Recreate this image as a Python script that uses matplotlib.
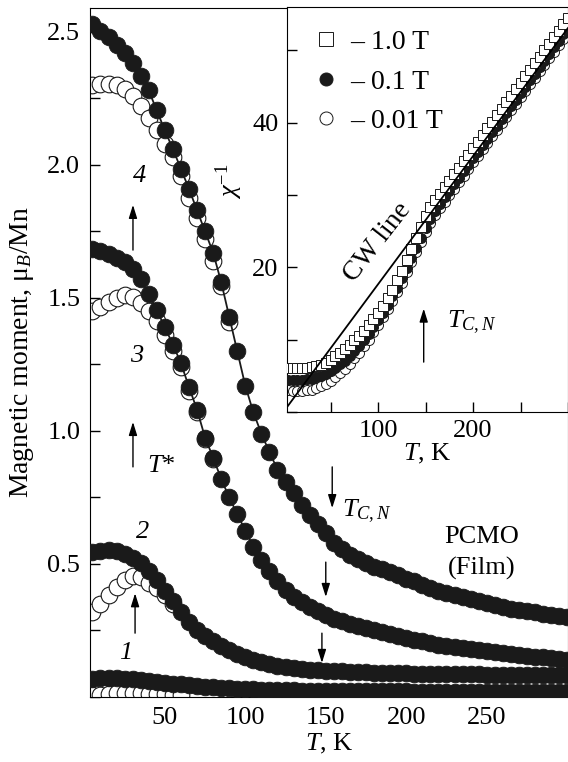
import numpy as np
import matplotlib
matplotlib.use("Agg")
import matplotlib.pyplot as plt
from matplotlib.ticker import MultipleLocator

plt.rcParams['font.family'] = ['Liberation Serif', 'DejaVu Serif']
plt.rcParams['mathtext.fontset'] = 'custom'
plt.rcParams['mathtext.rm'] = 'Liberation Serif'
plt.rcParams['mathtext.it'] = 'Liberation Serif:italic'
plt.rcParams['mathtext.bf'] = 'Liberation Serif:bold'

# temperature grid (K) shared by all curves
temps = list(range(5, 305, 5))

# main panel: magnetic moment (mu_B/Mn), filled = one field, open = the other
curve4_filled = [2.53, 2.505, 2.48, 2.45, 2.42, 2.385, 2.335, 2.28, 2.205, 2.13,
                 2.06, 1.985, 1.91, 1.83, 1.75, 1.67, 1.56, 1.43, 1.30, 1.17,
                 1.07, 0.99, 0.92, 0.855, 0.81, 0.765, 0.72, 0.685, 0.65, 0.615,
                 0.58, 0.555, 0.535, 0.52, 0.505, 0.49, 0.48, 0.47, 0.46, 0.445,
                 0.435, 0.42, 0.41, 0.40, 0.39, 0.383, 0.375, 0.367, 0.36, 0.352,
                 0.345, 0.338, 0.332, 0.327, 0.322, 0.318, 0.313, 0.309, 0.305, 0.30]
curve3_filled = [1.685, 1.675, 1.665, 1.652, 1.635, 1.61, 1.57, 1.515, 1.455, 1.39,
                 1.325, 1.255, 1.165, 1.08, 0.975, 0.90, 0.82, 0.75, 0.688, 0.625,
                 0.565, 0.515, 0.475, 0.437, 0.402, 0.377, 0.356, 0.338, 0.322, 0.308,
                 0.295, 0.285, 0.275, 0.266, 0.258, 0.25, 0.243, 0.236, 0.229, 0.222,
                 0.215, 0.209, 0.203, 0.197, 0.192, 0.187, 0.183, 0.179, 0.175, 0.172,
                 0.168, 0.165, 0.162, 0.158, 0.155, 0.152, 0.149, 0.146, 0.143, 0.14]
curve2_filled = [0.545, 0.55, 0.553, 0.548, 0.537, 0.522, 0.505, 0.472, 0.44, 0.40,
                 0.36, 0.32, 0.283, 0.252, 0.23, 0.21, 0.192, 0.175, 0.162, 0.15,
                 0.14, 0.131, 0.124, 0.118, 0.113, 0.109, 0.106, 0.103, 0.101, 0.099,
                 0.097, 0.096, 0.095, 0.094, 0.093, 0.092, 0.091, 0.09, 0.09, 0.089,
                 0.088, 0.088, 0.087, 0.087, 0.086, 0.086, 0.085, 0.085, 0.085, 0.084,
                 0.084, 0.083, 0.083, 0.083, 0.082, 0.082, 0.082, 0.081, 0.081, 0.081]
curve1_filled = [0.068, 0.07, 0.071, 0.07, 0.069, 0.067, 0.064, 0.061, 0.058, 0.054,
                 0.05, 0.047, 0.044, 0.041, 0.038, 0.036, 0.034, 0.032, 0.031, 0.03,
                 0.029, 0.028, 0.027, 0.026, 0.025, 0.025, 0.024, 0.024, 0.023, 0.023,
                 0.023, 0.022, 0.022, 0.022, 0.022, 0.021, 0.021, 0.021, 0.021, 0.021,
                 0.02, 0.02, 0.02, 0.02, 0.02, 0.02, 0.02, 0.02, 0.02, 0.02,
                 0.02, 0.02, 0.02, 0.02, 0.02, 0.02, 0.02, 0.02, 0.02, 0.02]

curve4_open = [2.30, 2.305, 2.305, 2.30, 2.285, 2.26, 2.22, 2.175, 2.13, 2.08,
               2.03, 1.96, 1.875, 1.80, 1.72, 1.64, 1.545, 1.41]
curve3_open = [1.45, 1.465, 1.485, 1.50, 1.51, 1.505, 1.48, 1.45, 1.415, 1.36,
               1.30, 1.24, 1.15, 1.07, 0.97, 0.895]
curve2_open = [0.32, 0.35, 0.385, 0.415, 0.44, 0.453, 0.45, 0.43, 0.41, 0.385, 0.35]
curve1_open = [0.006, 0.009, 0.012, 0.014, 0.015, 0.015, 0.014, 0.013, 0.011, 0.01,
               0.009, 0.008]

# inset: inverse susceptibility
chi_inv_1T = [6.1, 6.1, 6.1, 6.1, 6.15, 6.2, 6.3, 6.5, 6.8, 7.2,
              7.7, 8.2, 8.7, 9.3, 9.9, 10.5, 11.2, 12.0, 12.8, 13.7,
              14.6, 15.7, 16.9, 18.2, 19.5, 21.0, 22.6, 24.0, 25.6, 27.1,
              28.3, 29.3, 30.2, 31.1, 32.0, 32.9, 33.8, 34.7, 35.6, 36.5,
              37.4, 38.3, 39.2, 40.1, 41.0, 41.9, 42.8, 43.7, 44.6, 45.5,
              46.4, 47.3, 48.2, 49.1, 50.0, 50.9, 51.8, 52.7, 53.6, 54.5]
chi_inv_01T = [4.4, 4.4, 4.4, 4.45, 4.5, 4.6, 4.8, 5.0, 5.3, 5.7,
               6.1, 6.6, 7.1, 7.7, 8.4, 9.1, 9.9, 10.8, 11.7, 12.7,
               13.7, 14.8, 16.0, 17.2, 18.5, 19.9, 21.3, 22.7, 24.1, 25.5,
               26.7, 27.8, 28.8, 29.7, 30.6, 31.5, 32.4, 33.3, 34.2, 35.1,
               36.0, 36.9, 37.8, 38.7, 39.6, 40.5, 41.4, 42.3, 43.2, 44.1,
               45.0, 45.9, 46.8, 47.7, 48.6, 49.5, 50.4, 51.3, 52.2, 53.1]
chi_inv_001T = [3.0, 2.9, 2.9, 2.9, 3.0, 3.1, 3.3, 3.6, 3.9, 4.3,
                4.8, 5.4, 6.0, 6.7, 7.4, 8.2, 9.1, 10.0, 11.0, 12.0,
                13.1, 14.2, 15.4, 16.6, 17.9, 19.3, 20.7, 22.1, 23.5, 24.9,
                26.1, 27.2, 28.2, 29.1, 30.0, 30.9, 31.8, 32.7, 33.6, 34.5,
                35.4, 36.3, 37.2, 38.1, 39.0, 39.9, 40.8, 41.7, 42.6, 43.5,
                44.4, 45.3, 46.2, 47.1, 48.0, 48.9, 49.8, 50.7, 51.6, 52.5]
cw_T = [3, 300]
cw_chi = [0.5, 53.1]
field_labels = ["\u2013 1.0 T", "\u2013 0.1 T", "\u2013 0.01 T"]

FS = 19

fig = plt.figure(figsize=(5.68, 7.62), dpi=100)
W, H = 568.0, 762.0
ax = fig.add_axes([90 / W, 65 / H, 478 / W, 689 / H])

ms_main = 12
for vals in [curve4_open, curve3_open, curve2_open, curve1_open]:
    ax.plot(temps[:len(vals)], vals, 'o', ms=ms_main, mfc='white', mec='#1a1a1a',
            mew=0.8, zorder=2)
for vals in [curve4_filled, curve3_filled, curve2_filled, curve1_filled]:
    ax.plot(temps, vals, '-o', color='#1a1a1a', lw=1.3, ms=ms_main, mfc='#1a1a1a',
            mec='#1a1a1a', mew=0.6, zorder=3)

ax.set_xlim(3.5, 300.5)
ax.set_ylim(0, 2.59)
ax.set_xticks([50, 100, 150, 200, 250])
ax.yaxis.set_minor_locator(MultipleLocator(0.25))
ax.set_yticks([0.5, 1.0, 1.5, 2.0, 2.5])
ax.tick_params(direction='in', length=7, width=1, labelsize=FS, pad=7)
ax.tick_params(which='minor', direction='in', length=7, width=1)
ax.set_xlabel("$T$, K", fontsize=FS, labelpad=2)
ax.set_ylabel(r"Magnetic moment, $\mathrm{\mu}_B$/Mn", fontsize=FS + 1, labelpad=8)

arrow_kw = dict(arrowstyle='-|>,head_length=0.8,head_width=0.25', color='k', lw=1.0,
                shrinkA=0, shrinkB=0)
# up arrows (T*)
for x, y0, y1 in [(30.2, 1.68, 1.85), (30.2, 0.865, 1.034), (31.5, 0.24, 0.39)]:
    ax.annotate('', xy=(x, y1), xytext=(x, y0), arrowprops=arrow_kw, zorder=5)
# down arrows (T_C,N)
for x, y0, y1 in [(154, 0.865, 0.71), (150, 0.507, 0.376), (147.6, 0.24, 0.128)]:
    ax.annotate('', xy=(x, y1), xytext=(x, y0), arrowprops=arrow_kw, zorder=5)

ax.text(34.6, 1.96, "4", fontsize=FS, style='italic', ha='center', va='center')
ax.text(32.7, 1.28, "3", fontsize=FS, style='italic', ha='center', va='center')
ax.text(36.4, 0.62, "2", fontsize=FS, style='italic', ha='center', va='center')
ax.text(25.9, 0.165, "1", fontsize=FS, style='italic', ha='center', va='center')
ax.text(39, 0.87, "$T$*", fontsize=FS, ha='left', va='center')
ax.text(160, 0.70, "$T_{C,N}$", fontsize=FS, ha='left', va='center')
ax.text(247, 0.60, "PCMO", fontsize=FS, ha='center', va='center')
ax.text(247, 0.485, "(Film)", fontsize=FS, ha='center', va='center')

# inset
axi = fig.add_axes([287 / W, (H - 412) / H, 281 / W, 405 / H])
axi.set_facecolor('white')
ms_in = 7.2
axi.plot(temps, chi_inv_001T, 'o', ms=ms_in, mfc='white', mec='#1a1a1a', mew=0.7,
         zorder=2, label=field_labels[2])
axi.plot(temps, chi_inv_01T, 'o', ms=ms_in, mfc='#1a1a1a', mec='#1a1a1a', mew=0.7,
         zorder=3, label=field_labels[1])
axi.plot(temps, chi_inv_1T, 's', ms=ms_in, mfc='white', mec='#1a1a1a', mew=0.7,
         zorder=4, label=field_labels[0])
axi.plot(cw_T, cw_chi, '-', color='k', lw=1.3, zorder=5)

axi.set_xlim(4, 300)
axi.set_ylim(0, 56)
axi.set_xticks([100, 200])
axi.xaxis.set_minor_locator(MultipleLocator(50))
axi.set_yticks([20, 40])
axi.yaxis.set_minor_locator(MultipleLocator(10))
axi.tick_params(direction='in', length=7, width=1, labelsize=FS, pad=6)
axi.tick_params(which='minor', direction='in', length=7, width=1)
axi.set_xlabel("$T$, K", fontsize=FS, labelpad=0)
axi.set_ylabel(r"$\chi^{-1}$", fontsize=FS)
axi.yaxis.set_label_coords(-0.15, 0.57)

handles, labels = axi.get_legend_handles_labels()
axi.legend(handles[::-1], labels[::-1], loc='upper left', bbox_to_anchor=(0.04, 0.985),
           frameon=False, fontsize=FS + 1, handlelength=0.8, handletextpad=0.45,
           labelspacing=0.5, borderaxespad=0.2, markerscale=1.3)

axi.annotate('', xy=(148, 14.3), xytext=(148, 6.9), arrowprops=arrow_kw, zorder=6)
axi.text(173, 12.4, "$T_{C,N}$", fontsize=FS, ha='left', va='center')
axi.text(99, 23.5, "CW line", fontsize=FS + 1, rotation=52, ha='center', va='center',
         rotation_mode='anchor')

fig.savefig("out.png", dpi=100)
